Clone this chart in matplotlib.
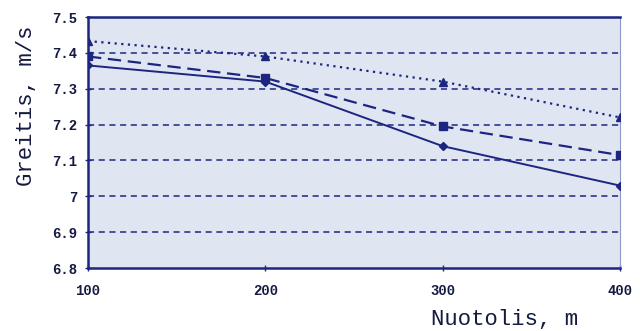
import matplotlib
matplotlib.use("Agg")
import matplotlib.pyplot as plt
import numpy as np

# distance, m
distance = [100, 200, 300, 400]
# speed, m/s
speed_triangle = [7.433, 7.39, 7.32, 7.22]
speed_square = [7.39, 7.33, 7.195, 7.115]
speed_diamond = [7.365, 7.32, 7.14, 7.03]

yticks = [6.8, 6.9, 7.0, 7.1, 7.2, 7.3, 7.4, 7.5]
ytick_labels = ["6.8", "6.9", "7", "7.1", "7.2", "7.3", "7.4", "7.5"]

navy = "#1c2680"
ink = "#141a40"
mono = "Liberation Mono"

fig = plt.figure(figsize=(6.4, 3.31), dpi=100)
ax = fig.add_axes([0.1375, 0.19, 0.8313, 0.7586])
ax.set_facecolor("#dfe6f2")

for y in yticks[1:-1]:
    ax.axhline(y, color=navy, lw=1.1, ls=(0, (4, 3)), zorder=1)

ax.plot(distance, speed_triangle, color=navy, lw=1.6, ls=(0, (1, 2)),
        marker="^", ms=6, zorder=3)
ax.plot(distance, speed_square, color=navy, lw=1.6, ls=(0, (6, 3)),
        marker="s", ms=6, zorder=3)
ax.plot(distance, speed_diamond, color=navy, lw=1.4, ls="-",
        marker="D", ms=4.5, zorder=3)

ax.set_xlim(100, 400)
ax.set_ylim(6.8, 7.5)
ax.set_xticks(distance)
ax.set_xticklabels([str(d) for d in distance], fontfamily=mono,
                   fontweight="bold", fontsize=10, color=ink)
ax.set_yticks(yticks)
ax.set_yticklabels(ytick_labels, fontfamily=mono, fontweight="bold",
                   fontsize=10, color=ink)
ax.tick_params(axis="both", direction="inout", length=5, color=navy, width=1)
ax.tick_params(axis="x", pad=9)
ax.tick_params(axis="y", pad=5)

for side in ["left", "bottom", "top"]:
    ax.spines[side].set_color(navy)
    ax.spines[side].set_linewidth(1.8)
ax.spines["right"].set_color("#8e9ac8")
ax.spines["right"].set_linewidth(0.8)

fig.text(0.042, 0.68, "Greitis, m/s", rotation=90, fontfamily=mono,
         fontsize=16, color=ink, ha="center", va="center")
fig.text(0.789, 0.035, "Nuotolis, m", fontfamily=mono, fontsize=16,
         color=ink, ha="center", va="center")

fig.savefig("out.png", dpi=100)
